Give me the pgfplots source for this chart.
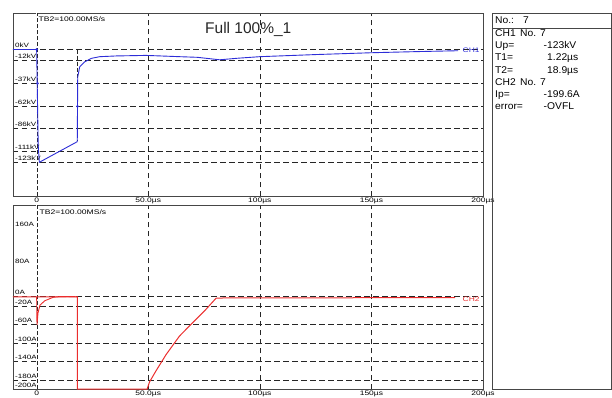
\documentclass[border=0pt]{standalone}
\usepackage{pgfplots}
\pgfplotsset{compat=1.18}
\usepackage{fontspec}
\setmainfont{Liberation Sans}
\newfontfamily\tickfont[FakeStretch=1.3]{Liberation Sans}
\newfontfamily\boxfont[FakeStretch=1.05]{Liberation Sans}
\definecolor{chone}{RGB}{45,45,215}
\definecolor{chtwo}{RGB}{235,45,45}
\definecolor{framec}{RGB}{70,70,70}
\newcommand{\tf}{\tickfont\fontsize{6.2}{7}\selectfont}
\newcommand{\xtf}{\tickfont\fontsize{6.5}{7}\selectfont}
\newcommand{\tbf}{\tickfont\fontsize{6.6}{7}\selectfont}
\newcommand{\boxf}{\boxfont\fontsize{9.8}{10}\selectfont}
\pgfplotsset{osc/.style={
  scale only axis, width=470pt,
  xmin=-10.6, xmax=200,
  axis line style={framec, line width=0.8pt},
  major tick length=0pt,
  xtick={50,100,150,200},
  xticklabels={50.0µs,100µs,150µs,200µs},
  extra x ticks={0}, extra x tick labels={0},
  extra x tick style={grid style={dash pattern=on 4pt off 2pt, line width=0.5pt, double=white, double distance=1.3pt, draw=black!85}},
  xmajorgrids, ymajorgrids,
  grid style={dash pattern=on 5.5pt off 3.5pt, line width=0.65pt, black!85},
  xticklabel style={font=\xtf, inner sep=1pt, text=black},
  yticklabel style={font=\tf, anchor=base west, inner sep=1pt, xshift=1pt, yshift=2pt, text=black},
}}
\begin{document}
\begin{tikzpicture}
\useasboundingbox (0,0) rectangle (612pt,398pt);
% ---------- top panel (CH1) ----------
\begin{axis}[osc, at={(13pt,201.5pt)}, anchor=south west, height=183pt,
  ymin=-160.3, ymax=39.3,
  ytick={-123,-111,-86,-62,-37,-12,0},
  yticklabels={-123kV,-111kV,-86kV,-62kV,-37kV,-12kV,0kV}]
\addplot[black!85, dash pattern=on 4pt off 2pt, line width=0.65pt] coordinates {(18.3,0) (18.3,-100)};
\addplot[chone, line width=0.9pt] coordinates {
(-10.6,0) (0,0) (0.4,-60) (0.7,-105) (1.2,-123) (18.2,-100.5) (18.4,-30) (19.3,-18.8)
(21.6,-13.3) (24.6,-9.6) (28.3,-7.8) (35.7,-7.0) (49,-6.4) (64,-7.8) (72,-8.5)
(82,-11.2) (90,-9.5) (100,-7.8) (125,-5.5) (150,-3.5) (170,-2.3) (188.8,-1.3)};
\addplot[chone, only marks, mark=o, mark size=1.1pt, line width=0.5pt] coordinates {(0,0) (0.4,-37) (18.3,-62)};
\end{axis}
% ---------- bottom panel (CH2) ----------
\begin{axis}[osc, at={(13pt,8.5pt)}, anchor=south west, height=184.5pt,
  ymin=-200.5, ymax=198.4,
  ytick={-200,-180,-140,-100,-60,-20,0},
  yticklabels={-200A,-180A,-140A,-100A,-60A,-20A,0A},
  extra y ticks={80,160}, extra y tick labels={80A,160A},
  extra y tick style={grid=none, yticklabel style={yshift=-6pt}}]
\addplot[chtwo, line width=1pt] coordinates {
(-10.6,0) (18.3,0) (18.3,-199.5) (49.5,-199.5) (50.6,-184) (53.5,-160) (58,-125)
(64,-85) (69.9,-56) (75.9,-27) (80.4,-3) (85,-2.5) (100,-2.2) (120,-2.5)
(150,-2) (170,-2) (187.5,-1.8)};
\addplot[chtwo, line width=0.9pt] coordinates {
(0,0) (0.15,-61) (0.6,-35) (1.5,-18) (3.7,-8.5) (7.5,-1) (10.5,0.3) (14,0.5) (18.3,0)};
\end{axis}
% ---------- annotations ----------
\node[anchor=west, inner sep=0, font=\tbf] at (38.5pt,379pt) {TB2=100.00MS/s};
\node[anchor=west, inner sep=0, font=\tbf] at (39.5pt,186pt) {TB2=100.00MS/s};
\node[anchor=base west, inner sep=0, font=\fontsize{15.5}{17}\selectfont, text=black!85] at (205pt,364.7pt) {Full 100\%\_1};
\node[anchor=west, inner sep=0, font=\xtf, text=chone] at (462.5pt,348pt) {CH1};
\node[anchor=west, inner sep=0, font=\xtf, text=chtwo] at (462.5pt,98.7pt) {CH2};
% ---------- info box ----------
\draw[framec, line width=0.8pt] (492.8pt,384.7pt) rectangle (611.6pt,8.7pt);
\draw[framec, line width=0.8pt] (492.8pt,369.5pt) -- (611.6pt,369.5pt);
\begin{scope}[every node/.style={anchor=base west, inner sep=0, font=\boxf, text=black}]
\node at (495pt,374.5pt) {No.:};
\node at (523pt,374.5pt) {7};
\node at (495pt,361.7pt) {CH1};
\node at (520pt,361.7pt) {No. 7};
\node at (495pt,349.2pt) {Up=};
\node at (543.5pt,349.2pt) {-123kV};
\node at (495pt,337pt) {T1=};
\node at (547pt,337pt) {1.22µs};
\node at (495pt,324.8pt) {T2=};
\node at (547pt,324.8pt) {18.9µs};
\node at (495pt,312.6pt) {CH2};
\node at (520pt,312.6pt) {No. 7};
\node at (495pt,300.4pt) {Ip=};
\node at (543.5pt,300.4pt) {-199.6A};
\node at (495pt,288.2pt) {error=};
\node at (543.5pt,288.2pt) {-OVFL};
\end{scope}
\end{tikzpicture}
\end{document}
